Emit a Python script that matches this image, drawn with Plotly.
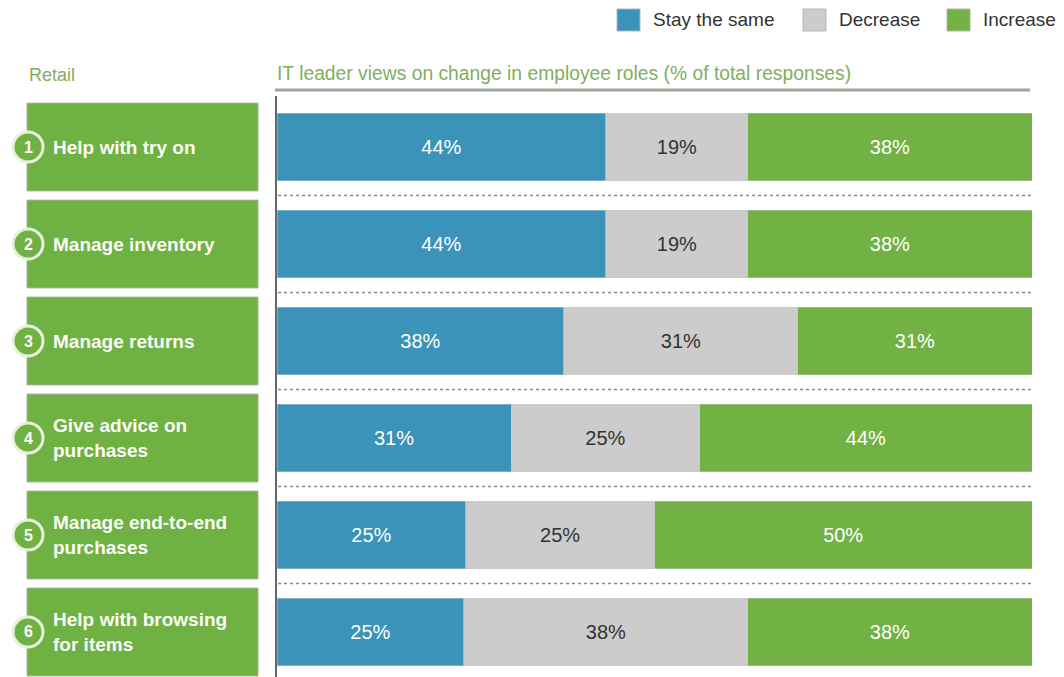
import plotly.graph_objects as go

# ---- data ----
categories = [
    "Help with try on",
    "Manage inventory",
    "Manage returns",
    "Give advice on<br>purchases",
    "Manage end-to-end<br>purchases",
    "Help with browsing<br>for items",
]
numbers = ["1", "2", "3", "4", "5", "6"]
stay_same = [44, 44, 38, 31, 25, 25]
decrease = [19, 19, 31, 25, 25, 38]
increase = [38, 38, 31, 44, 50, 38]
series_names = ["Stay the same", "Decrease", "Increase"]
header_left = "Retail"
header_title = "IT leader views on change in employee roles (% of total responses)"

# ---- style ----
W, H = 1064, 677
BLUE = "#3b93b9"
GRAY = "#cccccc"
GREEN = "#72b143"
BOX_GREEN = "#6fb142"
HEAD_GREEN = "#82ad60"
FONT = "Liberation Sans, Arial, sans-serif"

def px(x):
    return x / W

def py(y):
    return 1 - y / H

pos = list(range(len(categories)))

fig = go.Figure()
series = [(series_names[0], stay_same, BLUE, "white"),
          (series_names[1], decrease, GRAY, "#333333"),
          (series_names[2], increase, GREEN, "white")]
for name, vals, col, tcol in series:
    fig.add_trace(go.Bar(
        y=pos, x=vals, orientation="h", name=name,
        marker=dict(color=col, line=dict(color="rgba(200,200,200,0.6)", width=0.8)),
        width=0.70,
        text=[f"{v}%" for v in vals],
        textposition="inside", insidetextanchor="middle", textangle=0,
        constraintext="none",
        textfont=dict(color=tcol, size=20, family=FONT),
        showlegend=False, hoverinfo="skip",
    ))

shapes = []
annotations = []

# separators between rows (plot area only)
for i in pos[:-1]:
    shapes.append(dict(type="line", xref="paper", yref="y",
                       x0=px(278), x1=px(1032), y0=i + 0.5, y1=i + 0.5,
                       line=dict(color="#8a8a8a", width=1.6, dash="dot"), layer="below"))

# left label boxes, circles, numbers, texts
for i, (lab, num) in enumerate(zip(categories, numbers)):
    shapes.append(dict(type="rect", xref="paper", yref="y",
                       x0=px(27), x1=px(258), y0=i - 0.453, y1=i + 0.453,
                       fillcolor=BOX_GREEN, line=dict(color="#a9b2a2", width=1)))
    shapes.append(dict(type="circle", xref="paper", yref="y",
                       xsizemode="pixel", ysizemode="pixel",
                       xanchor=px(28), yanchor=i,
                       x0=-15, x1=15, y0=-15, y1=15,
                       fillcolor=BOX_GREEN, line=dict(color="#e6f2dc", width=3)))
    annotations.append(dict(x=px(28), y=i, xref="paper", yref="y", text=f"<b>{num}</b>",
                            showarrow=False, xanchor="center", yanchor="middle",
                            font=dict(color="white", size=16, family=FONT)))
    annotations.append(dict(x=px(51), y=i, xref="paper", yref="y", text=f"<b>{lab}</b>",
                            showarrow=False, xanchor="left", yanchor="middle", align="left",
                            font=dict(color="#fbfdf8", size=19, family=FONT)))

# headers
annotations.append(dict(x=px(27), y=py(75), xref="paper", yref="paper", text=header_left,
                        showarrow=False, xanchor="left", yanchor="middle",
                        font=dict(color=HEAD_GREEN, size=18, family=FONT)))
annotations.append(dict(x=px(275), y=py(73), xref="paper", yref="paper", text=header_title,
                        showarrow=False, xanchor="left", yanchor="middle",
                        font=dict(color=HEAD_GREEN, size=19.3, family=FONT)))
shapes.append(dict(type="line", xref="paper", yref="paper",
                   x0=px(275), x1=px(1030), y0=py(90), y1=py(90),
                   line=dict(color="#9ea69a", width=3)))

# custom legend
leg = [(series_names[0], BLUE, 617, 651), (series_names[1], GRAY, 803, 837),
       (series_names[2], GREEN, 947, 981)]
for name, col, sx, tx in leg:
    shapes.append(dict(type="rect", xref="paper", yref="paper",
                       x0=px(sx), x1=px(sx + 23), y0=py(9), y1=py(31),
                       fillcolor=col, line=dict(color="#b5b5b5", width=1)))
    annotations.append(dict(x=px(tx), y=py(20), xref="paper", yref="paper", text=name,
                            showarrow=False, xanchor="left", yanchor="middle",
                            font=dict(color="#333333", size=19, family=FONT)))

fig.update_layout(
    width=W, height=H,
    margin=dict(l=0, r=0, t=0, b=0),
    paper_bgcolor="white", plot_bgcolor="white",
    barmode="stack", barnorm="percent",
    xaxis=dict(domain=[px(277), px(1032)], range=[0, 100], showgrid=False,
               zeroline=False, showticklabels=False, ticks=""),
    yaxis=dict(domain=[0, py(96)], range=[5.464, -0.526], showgrid=False,
               zeroline=False, showticklabels=False, ticks="",
               showline=True, linecolor="#666666", linewidth=2),
    shapes=shapes, annotations=annotations,
    font=dict(family=FONT),
)

fig.write_html("out.html")
